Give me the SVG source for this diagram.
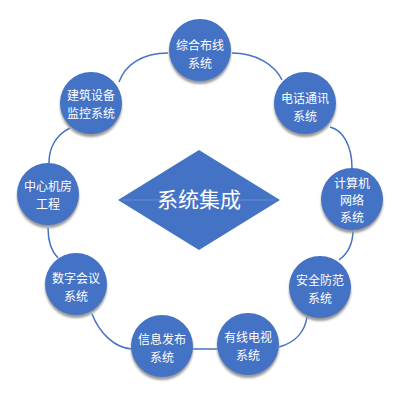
<svg xmlns="http://www.w3.org/2000/svg" width="400" height="400" viewBox="0 0 400 400">
<defs>
<filter id="sh" x="-30%" y="-30%" width="160%" height="170%">
<feGaussianBlur stdDeviation="1.2"/>
</filter>
<style>
.c{fill:#4472C4}
.s{fill:#9a9a9a;filter:url(#sh)}
.t{font-family:"Noto Sans CJK SC","Liberation Sans",sans-serif;font-size:12px;fill:#ffffff;text-anchor:middle}
.big{font-family:"Noto Sans CJK SC","Liberation Sans",sans-serif;font-size:21px;fill:#ffffff;text-anchor:middle}
.l{fill:none;stroke:#4472C4;stroke-width:1.5}
</style>
</defs>
<rect width="400" height="400" fill="#ffffff"/>
<g id="connectors">
<path class="l" d="M168,53 C142,53 125,65 119,82"/>
<path class="l" d="M70,128 C56,135 49,148 49,163"/>
<path class="l" d="M48,228 C48,244 52,252 58,258"/>
<path class="l" d="M92,314 C100,334 115,348 132,349"/>
<path class="l" d="M192,349 L218,349"/>
<path class="l" d="M279,347 C297,342 305,330 307,317"/>
<path class="l" d="M339,260 C350,252 353,242 353,230"/>
<path class="l" d="M352,168 C352,146 343,130 330,127"/>
<path class="l" d="M232,53 C256,53 275,65 282,80"/>
</g>
<g id="center">
<polygon points="199,150 280,200 199,250 118,200" fill="#4472C4"/>
<line x1="122" y1="200" x2="276" y2="200" stroke="#8faadc" stroke-width="0.8" opacity="0.6"/>
<text class="big" x="199" y="207">系统集成</text>
</g>
<g id="n1">
<circle class="s" cx="200" cy="53" r="31"/>
<circle class="c" cx="200" cy="50" r="31"/>
<text class="t" x="200" y="50.3">综合布线<tspan x="200" dy="17.4">系统</tspan></text>
</g>
<g id="n2">
<circle class="s" cx="305" cy="106" r="31"/>
<circle class="c" cx="305" cy="103" r="31"/>
<text class="t" x="305" y="103.3">电话通讯<tspan x="305" dy="17.4">系统</tspan></text>
</g>
<g id="n3">
<circle class="s" cx="352" cy="202" r="31"/>
<circle class="c" cx="352" cy="199" r="31"/>
<text class="t" x="352" y="187.6">计算机<tspan x="352" dy="17.4">网络</tspan><tspan x="352" dy="17.4">系统</tspan></text>
</g>
<g id="n4">
<circle class="s" cx="320" cy="290" r="31"/>
<circle class="c" cx="320" cy="287" r="31"/>
<text class="t" x="320" y="285.3">安全防范<tspan x="320" dy="17.4">系统</tspan></text>
</g>
<g id="n5">
<circle class="s" cx="248" cy="347" r="31"/>
<circle class="c" cx="248" cy="344" r="31"/>
<text class="t" x="248" y="342.3">有线电视<tspan x="248" dy="17.4">系统</tspan></text>
</g>
<g id="n6">
<circle class="s" cx="162" cy="349" r="31"/>
<circle class="c" cx="162" cy="346" r="31"/>
<text class="t" x="162" y="344.3">信息发布<tspan x="162" dy="17.4">系统</tspan></text>
</g>
<g id="n7">
<circle class="s" cx="76" cy="287" r="31"/>
<circle class="c" cx="76" cy="284" r="31"/>
<text class="t" x="76" y="283.3">数字会议<tspan x="76" dy="17.4">系统</tspan></text>
</g>
<g id="n8">
<circle class="s" cx="48" cy="197" r="31"/>
<circle class="c" cx="48" cy="194" r="31"/>
<text class="t" x="48" y="191.3">中心机房<tspan x="48" dy="17.4">工程</tspan></text>
</g>
<g id="n9">
<circle class="s" cx="91" cy="106" r="31"/>
<circle class="c" cx="91" cy="103" r="31"/>
<text class="t" x="91" y="100.3">建筑设备<tspan x="91" dy="17.4">监控系统</tspan></text>
</g>
</svg>
